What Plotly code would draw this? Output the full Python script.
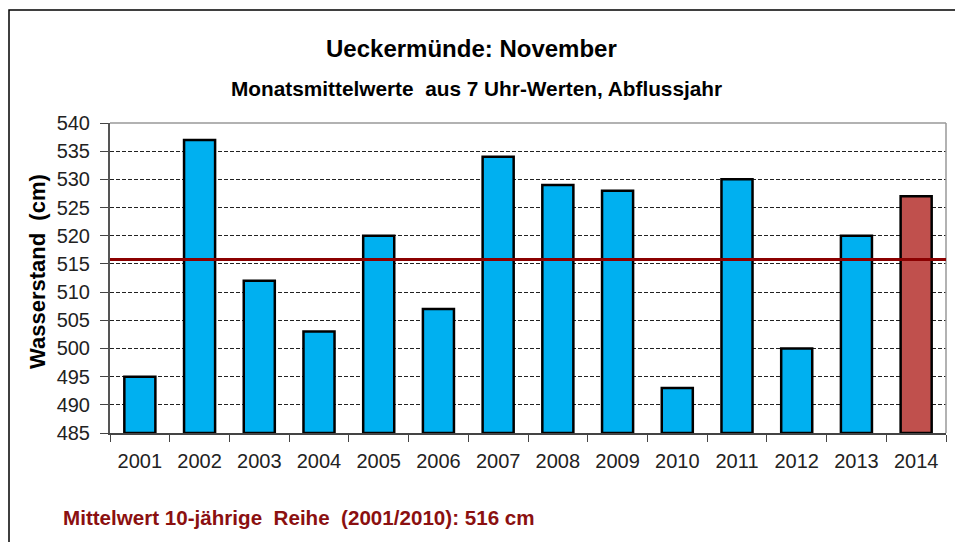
import plotly.graph_objects as go

years = ["2001", "2002", "2003", "2004", "2005", "2006", "2007", "2008", "2009", "2010", "2011", "2012", "2013", "2014"]
values = [495, 537, 512, 503, 520, 507, 534, 529, 528, 493, 530, 500, 520, 527]
mean_value = 515.8
y_ticks = [485, 490, 495, 500, 505, 510, 515, 520, 525, 530, 535, 540]

colors = ["#00B0F0"] * (len(years) - 1) + ["#C0504D"]

# page body has an 8px margin, so the figure is drawn 8px smaller and offset
PW, PH = 836, 310  # plot area size in px
def px(xp):  # page x -> paper x
    return (xp - 110) / PW
def py(yp):  # page y -> paper y
    return 1 - (yp - 123) / PH

fig = go.Figure()
fig.add_trace(go.Bar(
    x=years, y=[v - 485 for v in values], base=485,
    marker=dict(color=colors, line=dict(color="black", width=2.5)),
    width=0.52, showlegend=False, hoverinfo="skip",
))

font = "Liberation Sans, Arial, sans-serif"
fig.update_layout(
    width=955, height=534,
    margin=dict(l=102, r=17, t=115, b=109, autoexpand=False),
    paper_bgcolor="white", plot_bgcolor="white",
    font=dict(family=font, color="#222222"),
    xaxis=dict(
        type="category", tickson="boundaries", ticks="outside", ticklen=7,
        tickcolor="#444444", showline=True, linecolor="#444444", linewidth=1.5,
        tickfont=dict(size=20, color="#222222"), showgrid=False,
        ticklabelstandoff=9,
    ),
    yaxis=dict(
        range=[485, 540], tickvals=y_ticks, ticks="outside", ticklen=8,
        tickcolor="#444444", showline=True, linecolor="#555555", linewidth=2,
        tickfont=dict(size=20, color="#222222"), ticklabelstandoff=6,
        showgrid=True, gridcolor="#222222", griddash="4px,2px", gridwidth=1,
        zeroline=False,
    ),
    shapes=[
        dict(type="line", xref="paper", yref="paper", x0=0, x1=1, y0=1, y1=1,
             line=dict(color="#999999", width=1.5)),
        dict(type="line", xref="paper", yref="paper", x0=1, x1=1, y0=0, y1=1,
             line=dict(color="#999999", width=1.5)),
        dict(type="line", xref="paper", yref="y", x0=0, x1=1, y0=mean_value, y1=mean_value,
             line=dict(color="#8B0000", width=3)),
        dict(type="rect", xref="paper", yref="paper", x0=px(9), x1=1.1, y0=-0.6, y1=py(10),
             line=dict(color="black", width=1.5), layer="below"),
    ],
    annotations=[
        dict(text="<b>Ueckermünde: November</b>", xref="paper", yref="paper",
             x=px(471), y=py(48), xanchor="center", yanchor="middle",
             showarrow=False, font=dict(size=24, color="black", family=font)),
        dict(text="<b>Monatsmittelwerte  aus 7 Uhr-Werten, Abflussjahr</b>", xref="paper", yref="paper",
             x=px(476), y=py(88), xanchor="center", yanchor="middle",
             showarrow=False, font=dict(size=20.8, color="black", family=font)),
        dict(text="<b>Wasserstand  (cm)</b>", xref="paper", yref="paper", textangle=-90,
             x=px(37), y=py(272), xanchor="center", yanchor="middle",
             showarrow=False, font=dict(size=22, color="black", family=font)),
        dict(text="<b>Mittelwert 10-jährige  Reihe  (2001/2010): 516 cm</b>", xref="paper", yref="paper",
             x=px(61), y=py(517), xanchor="left", yanchor="middle",
             showarrow=False, font=dict(size=20.6, color="#8B1010", family=font)),
    ],
)

fig.write_html("out.html")
